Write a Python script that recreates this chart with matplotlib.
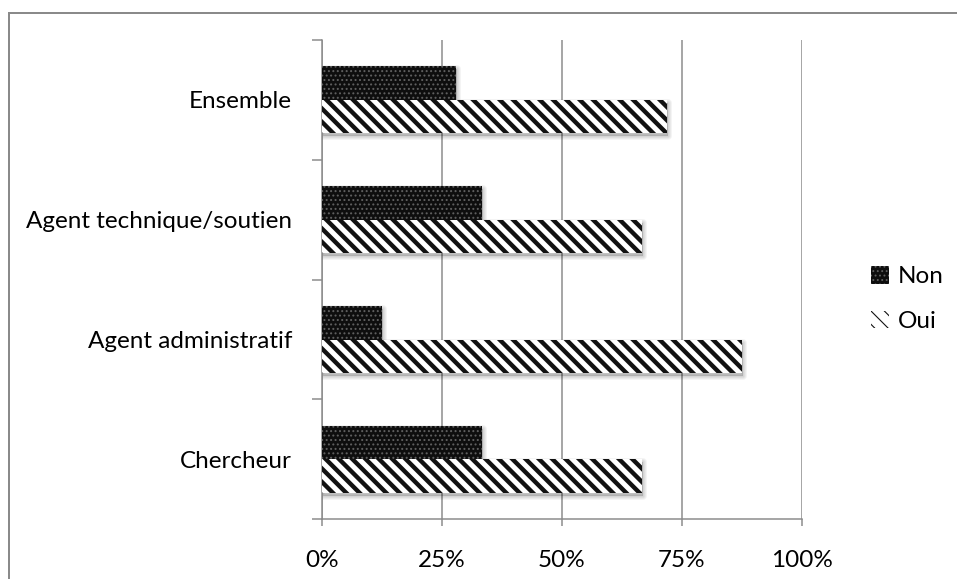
import matplotlib
matplotlib.use("Agg")
import matplotlib.pyplot as plt
from matplotlib.patches import Rectangle
from matplotlib.transforms import ScaledTranslation
import numpy as np

# Survey answers by staff category (percent of respondents)
categories = ["Chercheur", "Agent administratif", "Agent technique/soutien", "Ensemble"]
non = [33.3, 12.5, 33.3, 28.0]
oui = [66.7, 87.5, 66.7, 72.0]
series_labels = ["Non", "Oui"]
xticks = [0, 25, 50, 75, 100]
xticklabels = ["0%", "25%", "50%", "75%", "100%"]

DPI = 80
W, H = 957, 579
PT = 72 / DPI  # points per pixel
GREY = "#8a8a8a"

plt.rcParams["font.family"] = ["Lato", "DejaVu Sans"]

fig = plt.figure(figsize=(W / DPI, H / DPI), dpi=DPI)

# size the text so the longest category label spans ~265 px
fs = 23.0
probe = fig.text(0, 0, "Agent technique/soutien", fontsize=fs)
fig.canvas.draw()
fs = fs * 265 / probe.get_window_extent().width
probe.remove()
fs_px = fs / PT

# thin grey frame around the chart area
fig.patches.append(Rectangle((9 / W, -0.2), 2.0, (H - 13) / H + 0.2,
                             transform=fig.transFigure, fill=False,
                             edgecolor=GREY, lw=2 * PT))

ax = fig.add_axes([321.7 / W, 1 - 519.3 / H, 480 / W, 479.3 / H])

y = np.arange(len(categories))
h = 0.279
off = h / 2

# soft drop shadow under each bar
shift = ScaledTranslation(1 / DPI, -3 / DPI, fig.dpi_scale_trans)
for lw in [8, 6, 4, 2]:
    for vals, pos in [(non, y + off), (oui, y - off)]:
        sb = ax.barh(pos, vals, height=h, color="k", alpha=0.045,
                     edgecolor="k", linewidth=lw * PT, zorder=2)
        for p in sb:
            p.set_transform(ax.transData + shift)
            p.set_joinstyle("round")

with plt.rc_context({"hatch.linewidth": 1.2 * PT}):
    bars_non = ax.barh(y + off, non, height=h, color="#0e0e0e",
                       edgecolor="#606060", hatch="...", linewidth=0,
                       zorder=3, label=series_labels[0])
with plt.rc_context({"hatch.linewidth": 4.4 * PT}):
    bars_oui = ax.barh(y - off, oui, height=h, color="white",
                       edgecolor="#111111", hatch="\\\\", linewidth=0,
                       zorder=3, label=series_labels[1])

ax.set_xlim(0, 100)
ax.set_ylim(-0.5, len(categories) - 0.5)
ax.set_xticks(xticks, xticklabels)
ax.set_yticks(y, categories)
ax.set_yticks(np.arange(-0.5, len(categories), 1.0), minor=True)

ax.set_axisbelow(True)
ax.grid(axis="x", color=GREY, lw=1.5 * PT)
for s in ["top", "right"]:
    ax.spines[s].set_visible(False)
for s in ["left", "bottom"]:
    ax.spines[s].set_color(GREY)
    ax.spines[s].set_linewidth(1.5 * PT)

ax.tick_params(axis="y", which="major", length=0, pad=29.7 * PT,
               labelsize=fs, labelcolor="black")
ax.tick_params(axis="y", which="minor", length=10 * PT, width=1.5 * PT,
               color=GREY)
ax.tick_params(axis="x", length=7 * PT, width=1.5 * PT, color=GREY,
               pad=24 * PT, labelsize=fs, labelcolor="black")

ax.legend([bars_non, bars_oui], series_labels, loc="center left",
          bbox_to_anchor=(870.7 / W, 1 - 299 / H),
          bbox_transform=fig.transFigure, frameon=False, fontsize=fs,
          handlelength=18 / fs_px, handleheight=18 / fs_px,
          handletextpad=9 / fs_px, labelspacing=0.95,
          borderpad=0, borderaxespad=0)

fig.savefig("out.png", dpi=DPI, facecolor="white")
